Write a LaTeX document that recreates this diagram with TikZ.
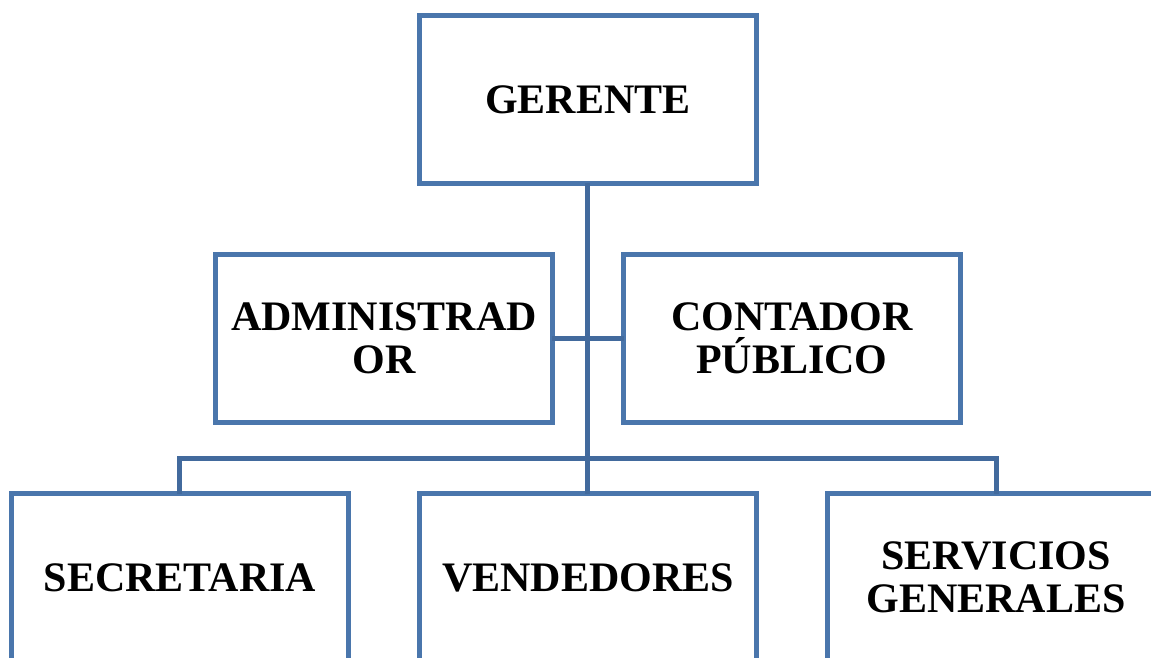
\documentclass[tikz,border=0pt]{standalone}
\usepackage{fontspec}
\setmainfont{Liberation Serif}
\usepackage{tikz}
\usetikzlibrary{positioning}
\definecolor{boxBlue}{RGB}{74,118,172}
\definecolor{lineBlue}{RGB}{66,106,157}
\tikzstyle{tBox} = [rectangle, draw=boxBlue, line width=5pt, align=center, minimum width=337pt, minimum height=168pt, inner sep=0pt, outer sep=0pt, text centered, font=\bfseries\fontsize{42}{43}\selectfont]
\tikzstyle{tLine} = [draw=lineBlue, line width=5pt]

\begin{document}
\begin{tikzpicture}[node distance=71pt]
        \useasboundingbox (-588pt,99.5pt) rectangle (563pt,-558.5pt);
        \node[tBox] (Gerente) {GERENTE};
        \node[tBox] (Admin) [below =71pt of Gerente, xshift=-204pt] {ADMINISTRAD\\OR};
        \node[tBox] (Contador) [right =of Admin] {CONTADOR\\PÚBLICO};
        \coordinate (Mid) at (Gerente |- Admin.south);
        \node[tBox] (Vendedores) [below =of Mid] {VENDEDORES};
        \node[tBox] (Secretaria) [left =of Vendedores] {SECRETARIA};
        \node[tBox] (Servicios) [right =of Vendedores] {SERVICIOS\\GENERALES};
        \coordinate[above =35pt of Vendedores.north] (Bus);
        \draw[tLine] (Gerente.south) -- (Vendedores.north);
        \draw[tLine] (Admin.east) -- (Contador.west);
        \draw[tLine] (Secretaria.north) |- (Bus) -| (Servicios.north);
    \end{tikzpicture}
\end{document}
